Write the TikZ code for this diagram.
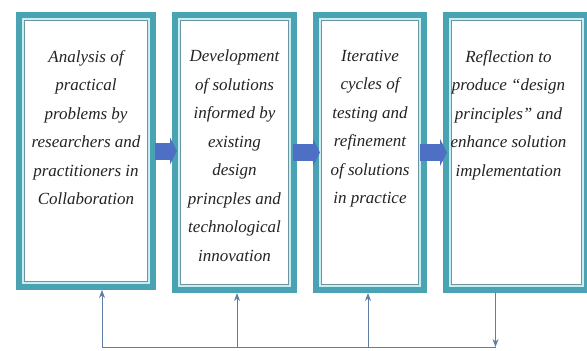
\documentclass[tikz,border=0pt]{standalone}
\usepackage{fontspec}
\setmainfont{Liberation Serif}
\usetikzlibrary{positioning,arrows.meta}
\definecolor{boxteal}{RGB}{74,163,178}
\definecolor{boxline}{RGB}{105,150,160}
\definecolor{boxglow}{RGB}{200,238,242}
\definecolor{flowblue}{RGB}{78,112,196}
\definecolor{backline}{RGB}{95,125,160}
\definecolor{textgray}{RGB}{35,35,35}
\begin{document}
\begin{tikzpicture}[x=1pt,y=-1pt,
    stagebox/.style={draw=boxteal,line width=6pt,fill=white,inner sep=0pt,minimum height=275pt},
    stagetext/.style={anchor=north,align=center,inner sep=0pt,text=textgray,font=\fontsize{17}{28.5}\selectfont\itshape},
    flow/.style={draw=flowblue,line width=17pt,-{Triangle[width=27pt,length=7pt]}},
    feedback/.style={draw=backline,line width=1pt}]
    \useasboundingbox (0,0) rectangle (587,351);
    %draw boxes
    \node[stagebox,minimum width=134pt,minimum height=272pt] (b1) at (86,151) {};
    \node[stagebox,minimum width=119pt,right=16pt of b1.north east,anchor=north west] (b2) {};
    \node[stagebox,minimum width=108pt,right=16pt of b2.north east,anchor=north west] (b3) {};
    \node[stagebox,minimum width=141pt,right=16pt of b3.north east,anchor=north west] (b4) {};
    \foreach \b in {b1,b2,b3,b4}
        {%
            \draw[boxglow,line width=2pt] ([xshift=7pt,yshift=-7pt]\b.north west) rectangle ([xshift=-7pt,yshift=7pt]\b.south east);
            \draw[boxline,line width=0.9pt] ([xshift=8.5pt,yshift=-8.5pt]\b.north west) rectangle ([xshift=-8.5pt,yshift=8.5pt]\b.south east);
        }
    %draw texts
    \node[stagetext] (t1) at ([yshift=-38pt]b1.north) {Analysis of\\practical\\problems by\\researchers and\\practitioners in\\Collaboration};
    \node[stagetext] (t2) at ([yshift=-38pt]b2.north) {Development\\of solutions\\informed by\\existing\\design\\princples and\\technological\\innovation};
    \node[stagetext] (t3) at ([yshift=-38pt]b3.north) {Iterative\\cycles of\\testing and\\refinement\\of solutions\\in practice};
    \node[stagetext] (t4) at ([xshift=-8pt,yshift=-38pt]b4.north) {Reflection to\\produce “design\\principles” and\\enhance solution\\implementation};
    %draw block arrows
    \draw[flow] ([xshift=-1pt]b1.east) -- ([xshift=5pt]b1.east -| b2.west);
    \draw[flow] ([xshift=-4pt]b2.east) -- ([xshift=7pt]b2.east -| b3.west);
    \draw[flow] ([xshift=-7pt]b3.east) -- ([xshift=4pt]b3.east -| b4.west);
    %draw feedback loop
    \coordinate (d4) at ([xshift=-21pt]b4.south);
    \coordinate (c4) at (d4 |- 0,347);
    \coordinate (u1) at ([xshift=16pt]b1.south);
    \coordinate (c1) at (u1 |- c4);
    \draw[feedback,-{Stealth[length=8pt,width=6pt]}] (d4) -- (c4);
    \draw[feedback] (c4) -- (c1);
    \draw[feedback,-{Stealth[length=8pt,width=6pt]}] (c1) -- (u1);
    \foreach \b/\dx in {b2/2.5,b3/-2}
        {%
            \draw[feedback,-{Stealth[length=8pt,width=6pt]}] ([xshift=\dx pt]\b.south |- c4) -- ([xshift=\dx pt]\b.south);
        }
\end{tikzpicture}
\end{document}
